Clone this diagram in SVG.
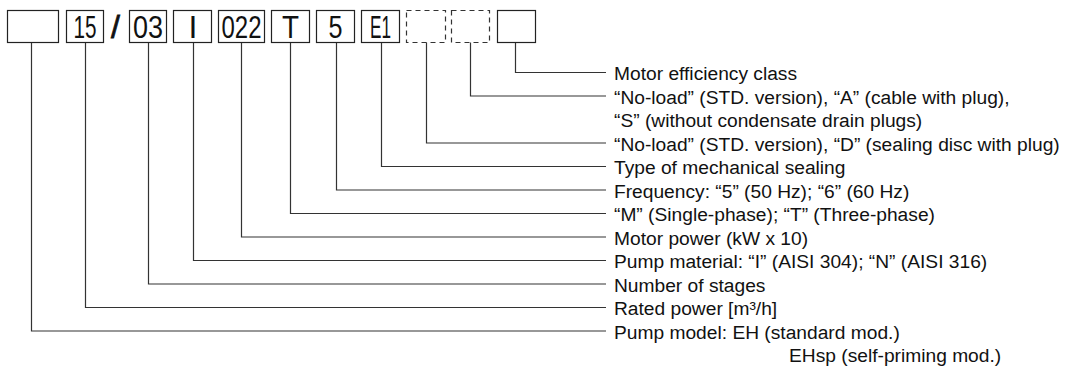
<svg xmlns="http://www.w3.org/2000/svg" width="1069" height="372" viewBox="0 0 1069 372">
<style>
.box{fill:#fff;stroke:#222;stroke-width:1.2}
.dash{fill:#fff;stroke:#333;stroke-width:1.2;stroke-dasharray:5 4}
.code{font-family:"Liberation Sans",Arial,sans-serif;font-size:32px;fill:#111;text-anchor:middle}
.lbl{font-family:"Liberation Sans",Arial,sans-serif;font-size:19.2px;fill:#111}
.conn{fill:none;stroke:#333;stroke-width:1.2}
</style>
<rect width="1069" height="372" fill="#fff"/>
<g id="connectors">
<polyline class="conn" points="515.5,42 515.5,72.5 606,72.5"/>
<polyline class="conn" points="470.5,42 470.5,96 606,96"/>
<polyline class="conn" points="426.5,42 426.5,143 606,143"/>
<polyline class="conn" points="381.5,42 381.5,166.5 606,166.5"/>
<polyline class="conn" points="336.5,42 336.5,190 606,190"/>
<polyline class="conn" points="290.5,42 290.5,213.5 606,213.5"/>
<polyline class="conn" points="241.5,42 241.5,237 606,237"/>
<polyline class="conn" points="193.5,42 193.5,260.5 606,260.5"/>
<polyline class="conn" points="148.5,42 148.5,284 606,284"/>
<polyline class="conn" points="85.5,42 85.5,307.5 606,307.5"/>
<polyline class="conn" points="31.5,42 31.5,331 606,331"/>
</g>
<g id="node-model"><rect class="box" x="7.5" y="10.5" width="51" height="32"/></g>
<g id="node-flow"><rect class="box" x="66.5" y="10.5" width="37" height="32"/><text class="code" x="85" y="38" textLength="23" lengthAdjust="spacingAndGlyphs">15</text></g>
<g id="node-slash"><text class="code" x="115.5" y="38" stroke="#111" stroke-width="0.8">/</text></g>
<g id="node-stages"><rect class="box" x="129.5" y="10.5" width="37" height="32"/><text class="code" x="148" y="38" textLength="30" lengthAdjust="spacingAndGlyphs">03</text></g>
<g id="node-material"><rect class="box" x="173.5" y="10.5" width="38" height="32"/><text class="code" x="193" y="38">I</text></g>
<g id="node-power"><rect class="box" x="218.5" y="10.5" width="46" height="32"/><text class="code" x="241.5" y="38" textLength="40" lengthAdjust="spacingAndGlyphs">022</text></g>
<g id="node-phase"><rect class="box" x="271.5" y="10.5" width="38" height="32"/><text class="code" x="290.5" y="38" textLength="17" lengthAdjust="spacingAndGlyphs">T</text></g>
<g id="node-freq"><rect class="box" x="316.5" y="10.5" width="38" height="32"/><text class="code" x="335.5" y="38" textLength="14" lengthAdjust="spacingAndGlyphs">5</text></g>
<g id="node-seal"><rect class="box" x="361.5" y="10.5" width="38" height="32"/><text class="code" x="380.5" y="38" textLength="21" lengthAdjust="spacingAndGlyphs">E1</text></g>
<g id="node-disc"><rect class="dash" x="406.5" y="10.5" width="39" height="32"/></g>
<g id="node-cable"><rect class="dash" x="451.5" y="10.5" width="38" height="32"/></g>
<g id="node-eff"><rect class="box" x="497.5" y="10.5" width="38" height="32"/></g>
<g id="labels">
<text class="lbl" x="614" y="80">Motor efficiency class</text>
<text class="lbl" x="614" y="103.5">“No-load” (STD. version), “A” (cable with plug),</text>
<text class="lbl" x="614" y="127">“S” (without condensate drain plugs)</text>
<text class="lbl" x="614" y="150.5">“No-load” (STD. version), “D” (sealing disc with plug)</text>
<text class="lbl" x="614" y="174">Type of mechanical sealing</text>
<text class="lbl" x="614" y="197.5">Frequency: “5” (50 Hz); “6” (60 Hz)</text>
<text class="lbl" x="614" y="221">“M” (Single-phase); “T” (Three-phase)</text>
<text class="lbl" x="614" y="244.5">Motor power (kW x 10)</text>
<text class="lbl" x="614" y="268">Pump material: “I” (AISI 304); “N” (AISI 316)</text>
<text class="lbl" x="614" y="291.5">Number of stages</text>
<text class="lbl" x="614" y="315">Rated power [m³/h]</text>
<text class="lbl" x="614" y="338.5">Pump model: EH (standard mod.)</text>
<text class="lbl" x="789" y="362">EHsp (self-priming mod.)</text>
</g>
</svg>
